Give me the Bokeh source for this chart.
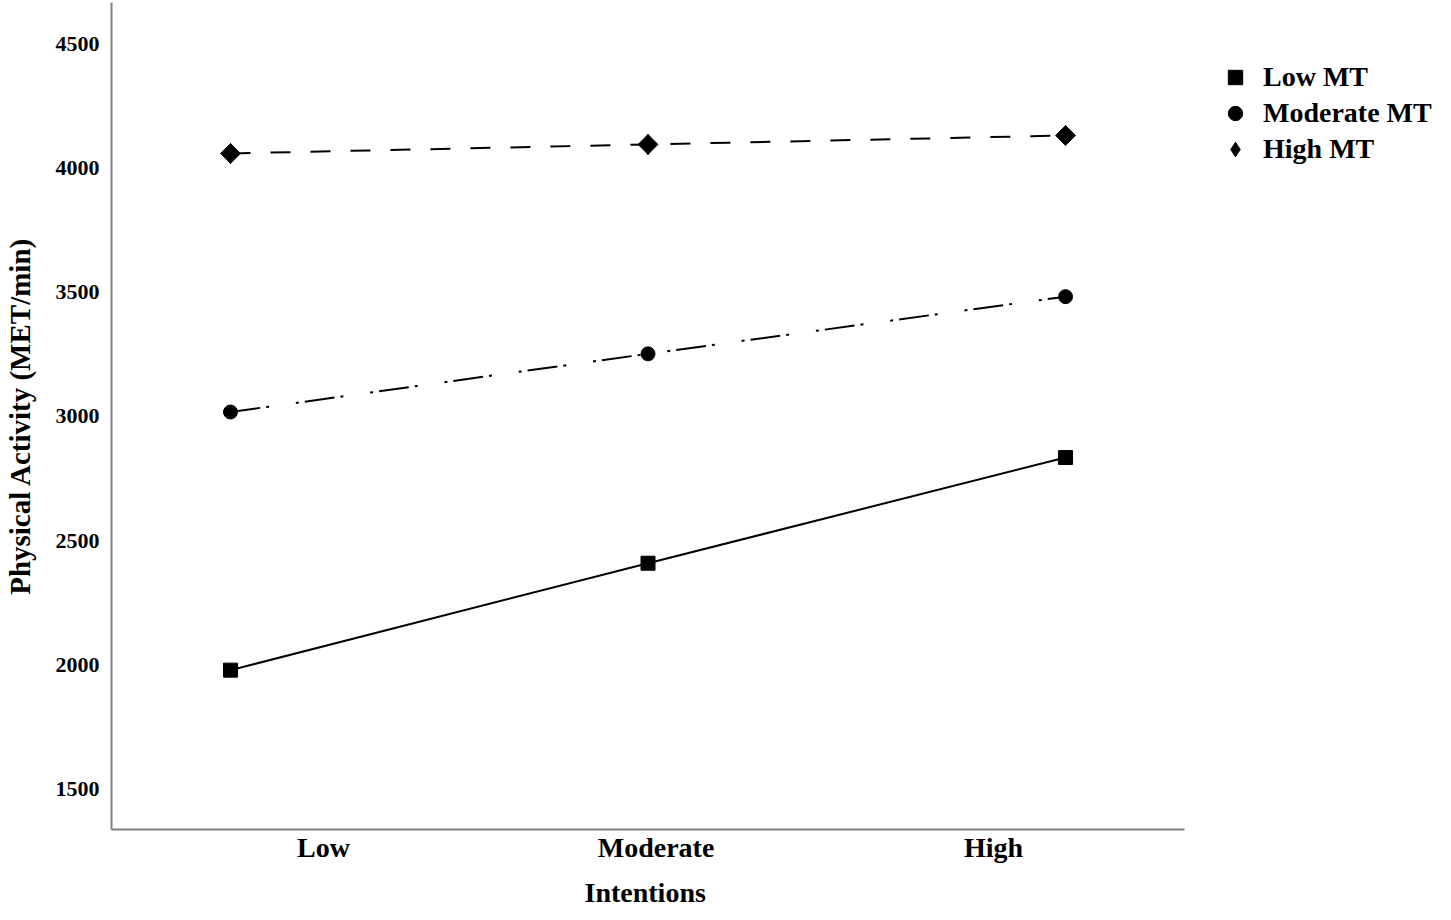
import math
from bokeh.plotting import figure
from bokeh.models import Range1d, FixedTicker, Legend, LegendItem, Title
from bokeh.embed import file_html
from bokeh.resources import INLINE

# ---- data ----
intentions = ["Low", "Moderate", "High"]
series_names = ["Low MT", "Moderate MT", "High MT"]
low_mt = [1980, 2410, 2835]
moderate_mt = [3018, 3252, 3482]
high_mt = [4058, 4094, 4130]
y_ticks = [1500, 2000, 2500, 3000, 3500, 4000, 4500]

# ---- layout constants ----
x_pos = [i + 1 for i in range(len(intentions))]
label_pos = [1.2228, 2.0192, 2.8275]   # category labels sit offset from the points
X_LO, X_AXIS_END, X_HI = 0.715, 3.285, 3.922
FONT = "Liberation Serif"
BLACK = "#000000"

p = figure(width=1450, height=920, output_backend="svg", toolbar_location=None,
           x_range=Range1d(X_LO, X_HI), y_range=Range1d(1339.1, 4664.9),
           min_border_left=111, min_border_right=0, min_border_top=2,
           min_border_bottom=91)
p.background_fill_color = "white"
p.border_fill_color = "white"
p.outline_line_color = None
p.grid.visible = False

p.line(x_pos, low_mt, line_color=BLACK, line_width=2)
p.line(x_pos, moderate_mt, line_color=BLACK, line_width=2, line_dash="30 6 3 27 3 6")
p.line(x_pos, high_mt, line_color=BLACK, line_width=2, line_dash="20 20")

s1 = p.scatter(x_pos, low_mt, marker="square", size=14, fill_color=BLACK, line_color=BLACK)
s2 = p.scatter(x_pos, moderate_mt, marker="circle", size=14, fill_color=BLACK, line_color=BLACK)
# High MT: narrow diamond (used for the legend) under a square turned 45 degrees
s3 = p.scatter(x_pos, high_mt, marker="diamond", size=20, fill_color=BLACK, line_color=BLACK)
p.scatter(x_pos, high_mt, marker="square", size=14, angle=math.pi / 4,
          fill_color=BLACK, line_color=BLACK)

# axes
xa = p.xaxis[0]
xa.ticker = FixedTicker(ticks=label_pos)
xa.major_label_overrides = {t: lab for t, lab in zip(label_pos, intentions)}
xa.bounds = (X_LO, X_AXIS_END)
ya = p.yaxis[0]
ya.ticker = FixedTicker(ticks=y_ticks)
ya.axis_label = "Physical Activity (MET/min)"

for ax in (xa, ya):
    ax.axis_line_color = "#808080"
    ax.axis_line_width = 2
    ax.major_tick_line_color = None
    ax.minor_tick_line_color = None
    ax.major_label_text_font = FONT
    ax.major_label_text_font_style = "bold"
    ax.major_label_text_color = BLACK
    ax.axis_label_text_font = FONT
    ax.axis_label_text_font_style = "bold"
    ax.axis_label_text_color = BLACK
    ax.axis_label_text_font_size = "29px"
    ax.major_label_text_line_height = 1.0
    ax.axis_label_text_line_height = 1.0

xa.major_label_text_font_size = "28px"
xa.major_label_standoff = -4
ya.major_label_text_font_size = "22px"
ya.major_label_standoff = 6
ya.axis_label_standoff = 17

# x-axis title, centred under the drawn part of the axis
p.add_layout(Title(text="Intentions", align="left", offset=473, standoff=18,
                   vertical_align="bottom",
                   text_font=FONT, text_font_style="bold", text_font_size="28px",
                   text_color=BLACK, text_line_height=1.0), "below")

legend = Legend(items=[LegendItem(label=n, renderers=[r])
                       for n, r in zip(series_names, [s1, s2, s3])],
                location=(1106, 662), orientation="vertical",
                margin=0, padding=0, spacing=0,
                glyph_width=36, glyph_height=36, label_height=36,
                label_standoff=10,
                label_text_font=FONT, label_text_font_style="bold",
                label_text_font_size="28px", label_text_color=BLACK,
                border_line_color=None, background_fill_alpha=0)
p.add_layout(legend, "center")

open("out.html", "w").write(file_html(p, INLINE))
